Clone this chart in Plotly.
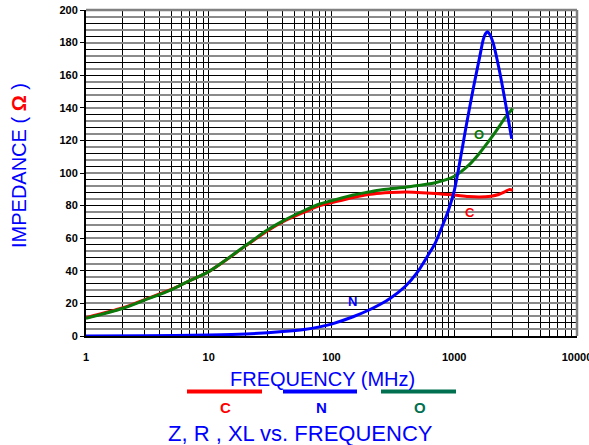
import math
import plotly.graph_objects as go

# ---- data ----
freq_co = [1, 2, 3, 5, 7, 10, 20, 30, 40, 60, 80, 100, 150, 200, 250, 300, 400, 500,
           700, 1000, 1300, 1600, 2000, 2300, 2600, 2800, 3000]
curve_o = [10.8, 17, 22, 28.5, 34, 39.5, 55.5, 65, 70.5, 77, 81, 83, 86.5, 88.3, 89.6,
           90.3, 91.2, 92.3, 94, 98, 104.5, 112, 121.5, 128, 134, 137, 139.5]
curve_c = [11.2, 17.3, 22.3, 28.7, 34, 39.5, 55.3, 64.5, 70, 76, 80, 81.8, 85, 86.8,
           87.6, 88, 88.3, 88.1, 87.5, 86.5, 85.6, 85.3, 85.8, 86.8, 88.6, 89.8, 89.4]

freq_n = [1, 3, 10, 20, 40, 60, 80, 100, 150, 200, 250, 300, 400, 500, 600, 700, 800,
          900, 1000, 1100, 1260, 1430, 1620, 1725, 1800, 1860, 1950, 2080, 2360, 2670, 2940]
curve_n = [0, 0.2, 0.6, 1.2, 2.7, 4.0, 5.6, 7.3, 11.8, 15.8, 19.5, 23, 30.5, 39, 48.5,
           57, 67.5, 77.5, 89, 105, 130, 152, 172, 182, 185.5, 186.7, 185, 179.5, 161,
           139, 121]

x_ticks = [1, 10, 100, 1000, 10000]
x_tick_labels = ["1", "10", "100", "1000", "10000"]
y_ticks = list(range(0, 201, 20))
y_tick_labels = [str(v) for v in y_ticks]

RED = "#ff0000"
BLUE = "#0000ff"
GREEN = "#0a7a0a"
TEAL = "#007050"

W, H = 589, 445
L, R, T, B = 86, 12, 10, 109
PW, PH = W - L - R, H - T - B


def px(x):
    return (x - L) / PW


def py(y):
    return (H - B - y) / PH


fig = go.Figure()
# helper (empty) traces so the overlay grid axes get drawn
fig.add_trace(go.Scatter(x=[], y=[], yaxis="y2", hoverinfo="skip", showlegend=False))
fig.add_trace(go.Scatter(x=[], y=[], yaxis="y3", hoverinfo="skip", showlegend=False))

fig.add_trace(go.Scatter(x=freq_co, y=curve_c, mode="lines", name="C",
                         line=dict(color=RED, width=3, shape="spline", smoothing=0.8)))
fig.add_trace(go.Scatter(x=freq_co, y=curve_o, mode="lines", name="O",
                         line=dict(color=GREEN, width=3, shape="spline", smoothing=0.8)))
fig.add_trace(go.Scatter(x=freq_n, y=curve_n, mode="lines", name="N",
                         line=dict(color=BLUE, width=3, shape="spline", smoothing=0.8)))

# grid positions
x_grid = [m * 10 ** k for k in range(4) for m in range(1, 10)] + [10000]
y_grid_black = list(range(0, 201, 8))
y_grid_gray = list(range(4, 201, 8))

XR = [0, 4.0002]

fig.update_layout(
    width=W, height=H,
    margin=dict(l=L, r=R, t=T, b=B, autoexpand=False),
    paper_bgcolor="white", plot_bgcolor="white",
    showlegend=False,
    xaxis=dict(type="log", range=XR, tickmode="array", tickvals=x_grid,
               ticktext=[x_tick_labels[x_ticks.index(v)] if v in x_ticks else "" for v in x_grid],
               showgrid=True, gridcolor="#000000", gridwidth=1,
               showline=True, linecolor="black", linewidth=2, ticks="",
               ticklabelstandoff=10, ticklabeloverflow="allow", automargin=False,
               tickfont=dict(family="Liberation Sans", size=11, color="black", weight="bold"),
               zeroline=False),
    yaxis=dict(range=[0, 200], tickmode="array", tickvals=y_ticks, ticktext=y_tick_labels,
               showgrid=False, showline=True, linecolor="black", linewidth=2,
               ticks="outside", ticklen=4, tickcolor="black", automargin=False,
               tickfont=dict(family="Liberation Sans", size=11, color="black", weight="bold"),
               zeroline=False),
    yaxis2=dict(overlaying="y", anchor="x", range=[0, 200], tickmode="array",
                tickvals=y_grid_black, showticklabels=False, ticks="",
                showgrid=True, gridcolor="#000000", gridwidth=1, zeroline=False,
                showline=False, automargin=False),
    yaxis3=dict(overlaying="y", anchor="x", range=[0, 200], tickmode="array",
                tickvals=y_grid_gray, showticklabels=False, ticks="",
                showgrid=True, gridcolor="#8a8a8a", gridwidth=2, zeroline=False,
                showline=False, automargin=False),
)

# frame top & right (gray)
fig.add_shape(type="line", xref="paper", yref="paper", x0=0, x1=1, y0=1, y1=1,
              line=dict(color="#808080", width=2.5))
fig.add_shape(type="line", xref="paper", yref="paper", x0=1, x1=1, y0=0, y1=1,
              line=dict(color="#808080", width=2.5))

# legend swatches below the axis title
for x0, x1, col in [(187, 262, RED), (283, 357, BLUE), (381, 456, TEAL)]:
    fig.add_shape(type="line", xref="paper", yref="paper", x0=px(x0), x1=px(x1),
                  y0=py(391.5), y1=py(391.5), line=dict(color=col, width=4))

ann = []
ann.append(dict(x=px(19), y=py(166), xref="paper", yref="paper", showarrow=False,
                xanchor="center", yanchor="middle",
                text='IMPEDANCE ( <span style="color:#ff0000"><b>Ω</b></span> )',
                textangle=-90, font=dict(family="Liberation Sans", size=20, color=BLUE)))
ann.append(dict(x=px(322), y=py(379), xref="paper", yref="paper", showarrow=False,
                xanchor="center", yanchor="middle",
                text="FREQUENCY (MHz)",
                font=dict(family="Liberation Sans", size=20, color=BLUE)))
ann.append(dict(x=px(300), y=py(433), xref="paper", yref="paper", showarrow=False,
                xanchor="center", yanchor="middle",
                text="Z, R , XL vs. FREQUENCY",
                font=dict(family="Liberation Sans", size=22, color=BLUE)))
for xx, txt, col in [(225, "C", RED), (321, "N", BLUE), (420, "O", TEAL)]:
    ann.append(dict(x=px(xx), y=py(407), xref="paper", yref="paper", showarrow=False,
                    xanchor="center", yanchor="middle",
                    text="<b>%s</b>" % txt,
                    font=dict(family="Liberation Sans", size=15, color=col)))

# curve labels (data coordinates)
for fx, fy, txt, col in [(147, 20.9, "N", BLUE), (1343, 76, "C", RED), (1600, 123.7, "O", GREEN)]:
    ann.append(dict(x=math.log10(fx), y=fy, xref="x", yref="y", showarrow=False,
                    xanchor="center", yanchor="middle",
                    text="<b>%s</b>" % txt,
                    font=dict(family="Liberation Sans", size=13, color=col)))

fig.update_layout(annotations=ann)
fig.write_html("out.html", config={"displayModeBar": False},
               post_script="document.body.style.margin='0';document.body.style.overflow='hidden';")
